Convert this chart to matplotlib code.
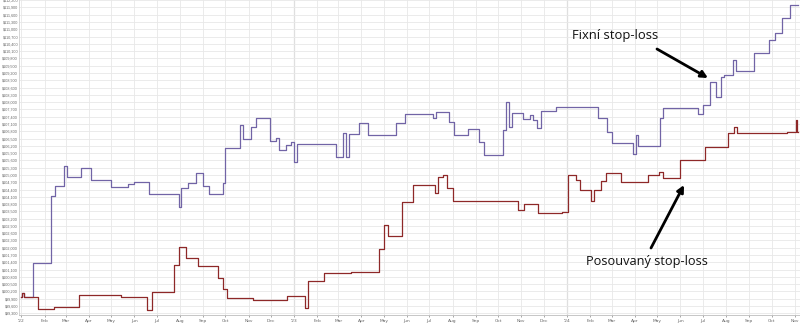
import numpy as np
import pandas as pd
import matplotlib
matplotlib.use('Agg')
import matplotlib.pyplot as plt
from matplotlib.ticker import MultipleLocator, FuncFormatter

# Fixní stop-loss (step series, value holds until next date)
fix_dates = ['2022-01-01', '2022-01-02', '2022-01-05', '2022-01-17', '2022-02-10', '2022-02-15',
             '2022-02-27', '2022-03-03', '2022-03-22', '2022-04-04', '2022-05-01', '2022-05-24',
             '2022-06-01', '2022-06-21', '2022-07-31', '2022-08-03', '2022-08-12', '2022-08-23',
             '2022-09-01', '2022-09-09', '2022-09-28', '2022-09-30', '2022-10-20', '2022-10-24',
             '2022-11-04', '2022-11-11', '2022-11-30', '2022-12-08', '2022-12-12', '2022-12-21',
             '2022-12-28', '2023-01-01', '2023-01-05', '2023-02-26', '2023-03-07', '2023-03-11',
             '2023-03-15', '2023-03-29', '2023-04-10', '2023-05-17', '2023-05-29', '2023-07-06',
             '2023-07-10', '2023-07-27', '2023-08-03', '2023-08-21', '2023-09-05', '2023-09-12',
             '2023-10-07', '2023-10-11', '2023-10-15', '2023-10-19', '2023-11-03', '2023-11-12',
             '2023-11-16', '2023-11-22', '2023-11-27', '2023-12-18', '2024-02-12', '2024-02-24',
             '2024-03-02', '2024-03-29', '2024-04-02', '2024-04-05', '2024-05-05', '2024-05-09',
             '2024-06-24', '2024-07-01', '2024-07-11', '2024-07-18', '2024-07-25', '2024-07-29',
             '2024-08-10', '2024-08-14', '2024-09-07', '2024-09-27', '2024-10-06', '2024-10-15',
             '2024-10-26', '2024-11-05']
fix_values = [99980, 100140, 99980, 101380, 104130, 104550,
              105370, 104920, 105290, 104790, 104510, 104630,
              104710, 104220, 103680, 104460, 104670, 105080,
              104550, 104220, 104670, 106110, 107060, 106480,
              106980, 107350, 106400, 106520, 106030, 106240,
              106360, 105540, 106280, 105740, 106730, 105740,
              106690, 107140, 106650, 107140, 107510, 107350,
              107590, 107180, 106650, 106890, 106360, 105820,
              106850, 108010, 106980, 107550, 107310, 107470,
              107260, 106940, 107640, 107800, 107350, 106770,
              106320, 105860, 106650, 106190, 107350, 107760,
              107510, 107880, 108830, 108210, 109040, 109120,
              109740, 109280, 110020, 110560, 110850, 111470,
              112000, 112000]

# Posouvaný stop-loss
pos_dates = ['2022-01-01', '2022-01-02', '2022-01-05', '2022-01-23', '2022-02-14', '2022-03-19',
             '2022-05-14', '2022-06-18', '2022-06-25', '2022-07-24', '2022-07-31', '2022-08-09',
             '2022-08-25', '2022-09-21', '2022-09-28', '2022-10-03', '2022-11-07', '2022-12-22',
             '2023-01-15', '2023-01-19', '2023-02-10', '2023-03-18', '2023-04-24', '2023-05-01',
             '2023-05-06', '2023-05-25', '2023-06-09', '2023-07-08', '2023-07-12', '2023-07-19',
             '2023-07-24', '2023-08-01', '2023-10-27', '2023-11-04', '2023-11-24', '2023-12-26',
             '2024-01-03', '2024-01-13', '2024-01-19', '2024-02-02', '2024-02-06', '2024-02-15',
             '2024-02-22', '2024-03-13', '2024-04-18', '2024-05-03', '2024-05-08', '2024-06-01',
             '2024-07-04', '2024-08-04', '2024-08-11', '2024-08-16', '2024-10-22', '2024-11-02',
             '2024-11-04', '2024-11-05']
pos_values = [99980, 100140, 99980, 99480, 99560, 100060,
              99980, 99440, 100180, 101290, 102030, 101580,
              101250, 100760, 100310, 99930, 99850, 100020,
              99520, 100640, 100960, 101010, 101950, 102940,
              102490, 103890, 104590, 104260, 104920, 105000,
              104460, 103930, 103560, 103810, 103440, 103480,
              105000, 104790, 104380, 103930, 104380, 104750,
              105080, 104710, 105000, 105120, 104880, 105620,
              106150, 106730, 106980, 106730, 106770, 107260,
              106770, 106770]

fix_x = pd.to_datetime(fix_dates)
pos_x = pd.to_datetime(pos_dates)

fig = plt.figure(figsize=(8, 3.25), dpi=100)
ax = fig.add_axes([0.024, 0.031, 0.976, 0.969])

ax.step(fix_x, fix_values, where='post', color='#7164a6', lw=0.9, zorder=3)
ax.step(pos_x, pos_values, where='post', color='#8e2828', lw=0.9, zorder=3)

ax.set_xlim(pd.Timestamp('2021-12-29'), pd.Timestamp('2024-11-08'))
ax.set_ylim(99234, 112206)

# y axis
ax.yaxis.set_major_locator(MultipleLocator(300))
ax.yaxis.set_major_formatter(FuncFormatter(lambda v, p: '${:,.0f}'.format(v)))

# x axis: month starts, year label on January
months = pd.date_range('2022-01-01', '2024-11-01', freq='MS')
ax.set_xticks(months)
ax.set_xticklabels(["'" + m.strftime('%y') if m.month == 1 else m.strftime('%b') for m in months])

ax.tick_params(axis='x', labelsize=3.2, colors='#666666', length=1.5, width=0.4, pad=1.5)
ax.tick_params(axis='y', labelsize=2.7, colors='#666666', length=0, pad=0.8)
for lab in ax.get_yticklabels():
    lab.set_family('Liberation Sans')

ax.grid(True, color='#e8e8e8', lw=0.6, zorder=0)
for m in months:
    if m.month == 1 and m.year > 2022:
        ax.axvline(m, color='#b4b4b4', lw=0.8, zorder=1)

for s in ['top', 'right']:
    ax.spines[s].set_visible(False)
ax.spines['left'].set_color('#cfcfcf')
ax.spines['bottom'].set_color('#bdbdbd')
ax.spines['left'].set_linewidth(0.6)
ax.spines['bottom'].set_linewidth(0.6)

# annotations (figure pixel positions from top-left)
W, H = 800, 325


def fp(x, y):
    return (x / W, 1 - y / H)


arrow = dict(arrowstyle='-|>', color='black', lw=2, mutation_scale=10, shrinkA=0, shrinkB=0)

fig.text(*fp(615, 36), 'Fixní stop-loss', ha='center', va='center',
         fontsize=9.4, family='Open Sans', color='#111111')
ax.annotate('', xy=fp(708, 78), xycoords='figure fraction',
            xytext=fp(657, 49), textcoords='figure fraction', arrowprops=arrow)

fig.text(*fp(647, 262), 'Posouvaný stop-loss', ha='center', va='center',
         fontsize=9.2, family='Open Sans', color='#111111')
ax.annotate('', xy=fp(684, 185), xycoords='figure fraction',
            xytext=fp(651, 248), textcoords='figure fraction', arrowprops=arrow)

fig.savefig('out.png', dpi=100)
